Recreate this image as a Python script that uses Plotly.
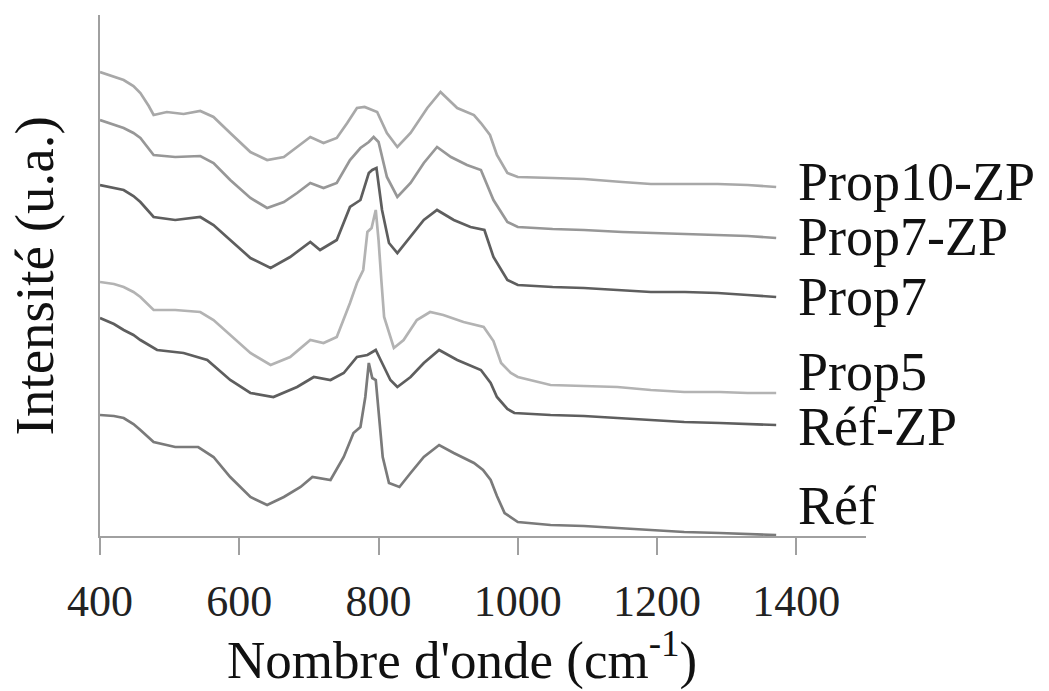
import plotly.graph_objects as go

# Raman spectra (arbitrary intensity units, stacked)
names = ["Prop10-ZP", "Prop7-ZP", "Prop7", "Prop5", "Réf-ZP", "Réf"]
colors = ["#a8a8a8", "#979797", "#5e5e5e", "#b3b3b3", "#5e5e5e", "#7a7a7a"]

x_prop10zp = [400, 420, 434, 448, 458, 470, 477, 496, 520, 544, 563, 587, 616, 640, 664, 683, 702, 721,
              740, 755, 769, 780, 788, 798, 812, 827, 846, 870, 889, 913, 937, 947, 960, 970, 985, 1000,
              1050, 1095, 1150, 1191, 1240, 1287, 1330, 1371]
y_prop10zp = [464, 459, 456, 450, 443, 430, 421, 424, 422, 425, 419, 403, 384, 376, 379, 389, 399, 393,
              398, 413, 428, 429, 427, 424, 403, 389, 403, 428, 444, 428, 421, 413, 401, 381, 363, 359,
              358, 357, 354, 352, 352, 352, 351, 349]

x_prop7zp = [400, 420, 434, 448, 458, 477, 508, 544, 563, 587, 616, 640, 664, 683, 702, 721, 740, 759,
             774, 786, 793, 800, 812, 827, 846, 865, 884, 904, 927, 947, 965, 985, 1000, 1050, 1095,
             1150, 1191, 1240, 1287, 1330, 1371]
y_prop7zp = [416, 411, 408, 403, 398, 381, 379, 380, 373, 356, 338, 328, 334, 343, 353, 348, 353, 376,
             388, 394, 399, 394, 359, 339, 353, 373, 389, 379, 371, 366, 336, 314, 309, 307, 306,
             304, 303, 302, 301, 300, 298]

x_prop7 = [400, 420, 434, 448, 458, 477, 508, 544, 563, 587, 616, 645, 673, 702, 716, 740, 759, 774,
           786, 791, 797, 805, 815, 827, 846, 865, 884, 908, 932, 952, 965, 985, 1000, 1050, 1095, 1150,
           1191, 1240, 1287, 1330, 1371]
y_prop7 = [351, 348, 346, 340, 334, 319, 316, 319, 311, 296, 278, 268, 279, 294, 286, 296, 329, 336,
           363, 366, 368, 326, 293, 283, 299, 316, 326, 316, 309, 306, 279, 256, 251, 249, 248, 246,
           244, 244, 243, 241, 239]

x_prop5 = [400, 420, 434, 448, 458, 477, 508, 544, 563, 587, 616, 645, 673, 702, 721, 740, 759, 769,
           778, 784, 790, 796, 800, 804, 808, 822, 836, 855, 874, 893, 922, 951, 965, 976, 990, 1000,
           1047, 1095, 1143, 1191, 1239, 1290, 1330, 1371]
y_prop5 = [254, 252, 249, 244, 239, 226, 226, 224, 216, 201, 183, 171, 179, 196, 193, 199, 233, 253,
           266, 304, 308, 326, 296, 256, 219, 188, 196, 216, 224, 221, 214, 209, 195, 173, 163, 159,
           151, 150, 149, 146, 144, 144, 143, 143]

x_refzp = [400, 420, 434, 448, 458, 482, 520, 554, 587, 616, 649, 683, 707, 731, 750, 769, 784, 796,
           803, 817, 827, 846, 865, 887, 913, 937, 947, 961, 970, 985, 995, 1047, 1095, 1143, 1191,
           1239, 1290, 1330, 1371]
y_refzp = [218, 212, 206, 201, 196, 186, 183, 176, 156, 143, 139, 149, 159, 156, 163, 179, 181, 186,
           176, 156, 149, 159, 173, 186, 176, 169, 166, 153, 139, 127, 123, 121, 120, 118, 116,
           114, 113, 112, 111]

x_ref = [400, 420, 434, 448, 458, 477, 508, 541, 563, 587, 616, 640, 664, 688, 705, 731, 750, 764,
         774, 781, 786, 791, 796, 800, 806, 815, 830, 846, 865, 887, 908, 937, 950, 961, 970, 981,
         1000, 1047, 1095, 1143, 1191, 1239, 1290, 1330, 1371]
y_ref = [121, 120, 118, 112, 106, 94, 89, 89, 79, 59, 39, 31, 39, 49, 59, 56, 79, 103,
         109, 139, 173, 158, 156, 126, 79, 53, 49, 63, 79, 91, 83, 73, 66, 56, 40, 23,
         14, 11, 10, 8, 6, 4, 3, 2, 1]

series = [
    (x_prop10zp, y_prop10zp),
    (x_prop7zp, y_prop7zp),
    (x_prop7, y_prop7),
    (x_prop5, y_prop5),
    (x_refzp, y_refzp),
    (x_ref, y_ref),
]
label_y = [354, 299, 239, 164, 109, 30]
x_ticks = [400, 600, 800, 1000, 1200, 1400]

FONT = "'Liberation Serif', 'DejaVu Serif', serif"
AXIS_GREY = "#a0a0a0"

fig = go.Figure()
for (xs, ys), name, col in zip(series, names, colors):
    fig.add_scatter(x=xs, y=ys, mode="lines", name=name,
                    line=dict(color=col, width=2.7), showlegend=False)

for name, ly in zip(names, label_y):
    fig.add_annotation(x=1400, y=ly, xref="x", yref="y", text=name, showarrow=False,
                       xanchor="left", yanchor="middle",
                       font=dict(family=FONT, size=54, color="#111"))

# axis titles placed as annotations
fig.add_annotation(x=0.4726, y=-0.2315, xref="paper", yref="paper",
                   text="Nombre d'onde (cm<sup>-1</sup>)", showarrow=False,
                   xanchor="center", yanchor="middle",
                   font=dict(family=FONT, size=53, color="#111"))
fig.add_annotation(x=-0.085, y=0.5, xref="paper", yref="paper",
                   text="Intensité (u.a.)", showarrow=False, textangle=-90,
                   xanchor="center", yanchor="middle",
                   font=dict(family=FONT, size=55, color="#111"))

fig.update_layout(
    width=1049, height=691,
    margin=dict(l=100, r=183, t=15, b=155),
    plot_bgcolor="white", paper_bgcolor="white",
    font=dict(family=FONT, color="#111"),
)
fig.update_xaxes(
    range=[400, 1500], tickvals=x_ticks, showgrid=False, zeroline=False,
    showline=True, linecolor=AXIS_GREY, linewidth=2,
    ticks="outside", ticklen=17, tickwidth=2, tickcolor=AXIS_GREY,
    tickfont=dict(family=FONT, size=44, color="#222"), ticklabelstandoff=8,
)
fig.update_yaxes(
    range=[0, 521], showgrid=False, zeroline=False, showticklabels=False,
    showline=True, linecolor=AXIS_GREY, linewidth=2, ticks="",
)

fig.write_html("out.html", config={"displayModeBar": False},
               post_script="document.body.style.margin='0';")
